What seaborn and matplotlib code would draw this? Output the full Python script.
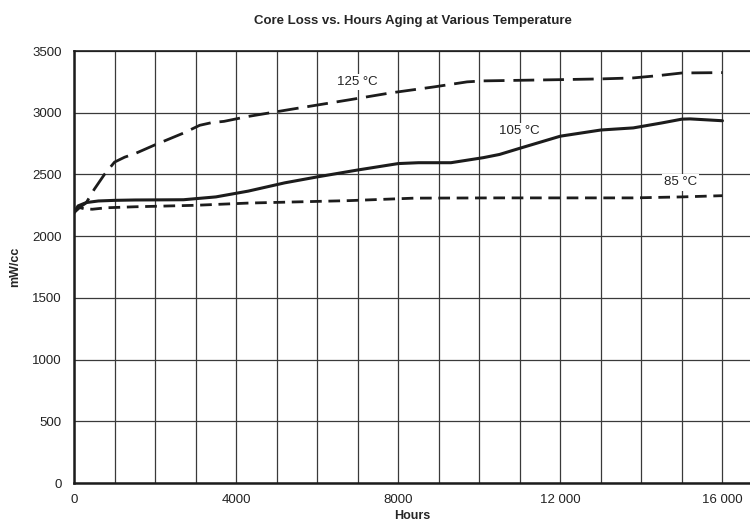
import matplotlib as mpl
import matplotlib.pyplot as plt
import seaborn as sns
import pandas as pd
import numpy as np

# values (hours, mW/cc)
hours_125 = [0, 150, 300, 500, 750, 1000, 1250, 1500, 2000, 2700, 3100, 3400, 3700, 4300, 5400,
             6800, 7800, 8900, 9700, 10100, 10500, 12000, 13000, 13800, 14400, 15000, 16000]
loss_125 = [2190, 2235, 2270, 2380, 2500, 2600, 2640, 2668, 2740, 2835, 2898, 2920, 2930, 2970, 3030,
            3105, 3160, 3210, 3250, 3258, 3260, 3268, 3274, 3282, 3300, 3322, 3325]

hours_105 = [0, 100, 300, 600, 1000, 1500, 2700, 3500, 4300, 5200, 6000, 7000, 7500, 8000,
             8500, 9300, 10100, 10500, 11000, 12000, 13000, 13800, 14500, 15000, 15200, 16000]
loss_105 = [2190, 2245, 2272, 2285, 2290, 2293, 2295, 2318, 2365, 2432, 2480, 2536, 2562, 2588,
            2595, 2595, 2636, 2662, 2712, 2810, 2860, 2877, 2917, 2948, 2950, 2935]

hours_85 = [0, 100, 250, 450, 800, 1500, 3000, 4300, 6800, 8400, 10500, 13800, 15000, 16000]
loss_85 = [2200, 2235, 2222, 2218, 2230, 2238, 2250, 2268, 2288, 2308, 2310, 2310, 2318, 2328]

labels = ['125 °C', '105 °C', '85 °C']
label_x = [6980, 11000, 14960]
label_y = [3250, 2850, 2435]

sns.set_style('white')
plt.rcParams['font.family'] = ['Liberation Sans', 'DejaVu Sans']
plt.rcParams['font.size'] = 9.5

fig = plt.figure(figsize=(7.5, 5.21), dpi=100)
ax = fig.add_axes([0.0987, 0.0729, 0.9013, 0.8292])

ink = '#1c1c1c'
sns.lineplot(x=hours_125, y=loss_125, ax=ax, color=ink, lw=2.0,
             linestyle=(0, (7.5, 3.2)), sort=False, zorder=3)
sns.lineplot(x=hours_105, y=loss_105, ax=ax, color=ink, lw=2.2, sort=False, zorder=3)
sns.lineplot(x=hours_85, y=loss_85, ax=ax, color=ink, lw=2.0,
             linestyle=(0, (4.2, 2.4)), sort=False, zorder=3)

for txt, tx, ty in zip(labels, label_x, label_y):
    ax.text(tx, ty, txt, ha='center', va='center', fontsize=9.5, color='#222222', zorder=4,
            bbox=dict(facecolor='white', edgecolor='none', pad=1.5))

ax.set_xlim(0, 16680)
ax.set_ylim(0, 3500)
ax.set_xticks(np.arange(0, 16001, 1000), minor=True)
ax.set_xticks([0, 4000, 8000, 12000, 16000])
ax.set_xticklabels(['0', '4000', '8000', '12 000', '16 000'])
ax.set_yticks(np.arange(0, 3501, 500))
ax.grid(True, which='both', axis='x', color='#3a3a3a', lw=0.9)
ax.grid(True, which='major', axis='y', color='#3a3a3a', lw=0.9)
ax.tick_params(which='both', length=0, labelsize=9.5, colors='#222222')
ax.tick_params(axis='x', pad=8)
ax.tick_params(axis='y', pad=9)

for side in ['left', 'bottom']:
    ax.spines[side].set_linewidth(1.8)
    ax.spines[side].set_color(ink)
ax.spines['top'].set_linewidth(1.2)
ax.spines['top'].set_color(ink)
ax.spines['right'].set_visible(False)

ax.set_xlabel('Hours', fontweight='bold', fontsize=9, labelpad=3)
ax.set_ylabel('mW/cc', fontweight='bold', fontsize=9, labelpad=8)
fig.suptitle('Core Loss vs. Hours Aging at Various Temperature', fontweight='bold',
             fontsize=9.5, x=0.55, y=0.972)

fig.savefig('out.png', dpi=100)
